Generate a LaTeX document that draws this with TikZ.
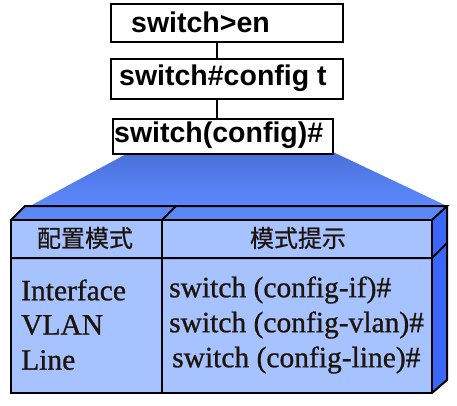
\documentclass[tikz,border=0pt]{standalone}
\usepackage{fontspec}
\setmainfont{Liberation Serif}
\newfontfamily\bodyfont[FakeBold=0.9]{Liberation Serif}
\newfontfamily\boxfont{Liberation Sans}
\newfontfamily\cjk[FakeBold=0.6]{Noto Sans CJK SC}
\definecolor{frontc}{HTML}{A6C2FF}
\definecolor{topc}{HTML}{5C88F6}
\definecolor{sidec}{HTML}{3A66FA}
\definecolor{trapt}{HTML}{4A6FD8}
\definecolor{trapb}{HTML}{5D89FF}
\definecolor{inkc}{HTML}{1E140C}
\tikzset{
  cmdbox/.style={draw=black, line width=2pt, fill=white, inner sep=0pt},
  cmdtext/.style={font=\boxfont\bfseries\fontsize{28.5}{31}\selectfont, anchor=west, inner sep=0pt},
  hdrtext/.style={font=\cjk\fontsize{24}{28}\selectfont, text=inkc, inner sep=0pt},
  bodytext/.style={font=\bodyfont\fontsize{29.5}{32}\selectfont, text=inkc, anchor=west, inner sep=0pt},
  edge/.style={line width=2pt, line join=miter},
  link/.style={draw=black, line width=2pt}
}
\begin{document}
\begin{tikzpicture}[x=1pt,y=-1pt]
\useasboundingbox (0,0) rectangle (457,405);
% trapezoid
\shade[top color=trapt, bottom color=trapb] (130,152) -- (333,152) -- (447,206) -- (30,206) -- cycle;
% 3D box
\fill[topc] (11,220) -- (25,206) -- (447,206) -- (432,220) -- cycle;
\fill[sidec] (432,220) -- (447,206) -- (447,380) -- (432,393) -- cycle;
\fill[frontc] (11,220) rectangle (432,393);
\draw[edge] (11,220) -- (25,206) -- (447,206) -- (432,220);
\draw[edge] (447,206) -- (447,380) -- (432,393);
\draw[edge] (11,220) rectangle (432,393);
\draw[edge] (11,258) -- (432,258) -- (447,243);
\draw[edge] (162,220) -- (176,206);
\draw[edge] (162,220) -- (162,393);
% command boxes
\node[cmdbox, minimum width=232pt, minimum height=38pt, anchor=north west] (b1) at (110,3) {};
\node[cmdbox, minimum width=232pt, minimum height=40pt, anchor=north west] (b2) at (110,58) {};
\node[cmdbox, minimum width=220pt, minimum height=35pt, anchor=north west] (b3) at (112,118) {};
\draw[link] (b1.south -| 217,0) -- (b2.north -| 217,0);
\draw[link] (b2.south -| 217,0) -- (b3.north -| 217,0);
\node[cmdtext] (t1) at (131,22) {switch>en};
\node[cmdtext] (t2) at (119,78) {switch\#config t};
\node[cmdtext] (t3) at (114,135) {switch(config)\#};
% table text
\node[hdrtext] (h1) at (85,238) {配置模式};
\node[hdrtext] (h2) at (298,238) {模式提示};
\node[bodytext] (r1) at (21,290) {Interface};
\node[bodytext] (r2) at (21,325) {VLAN};
\node[bodytext] (r3) at (21,360) {Line};
\node[bodytext] (s1) at (169,290) {switch (config-if)\#};
\node[bodytext] (s2) at (169,325) {switch (config-vlan)\#};
\node[bodytext] (s3) at (172,360) {switch (config-line)\#};
\end{tikzpicture}
\end{document}
